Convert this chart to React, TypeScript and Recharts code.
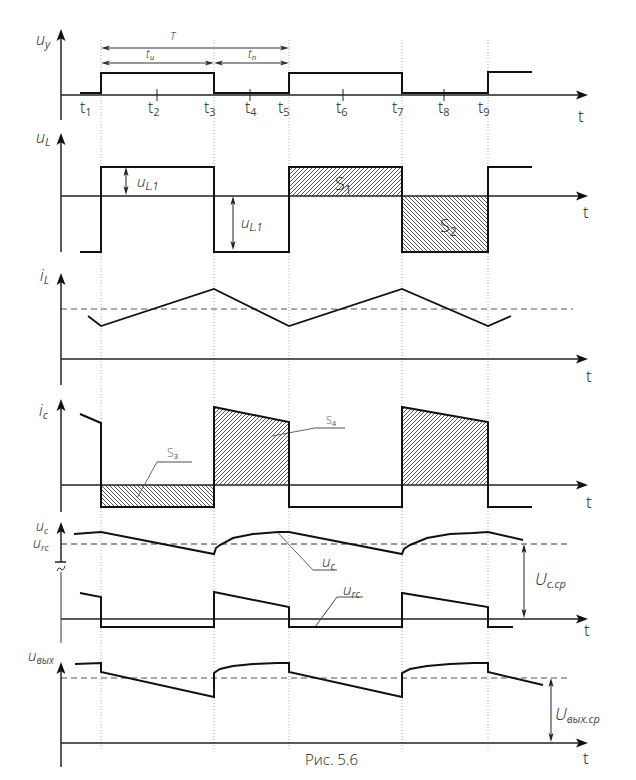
import React from "react";
import {
  ComposedChart,
  Line,
  Area,
  XAxis,
  YAxis,
  ReferenceLine,
  ReferenceDot,
} from "recharts";

const W = 636;
const H = 780;
const FONT = "'Open Sans', 'DejaVu Sans', sans-serif";

// baseline (page px) of every panel's t-axis, value 0 sits there
const base: Record<string, number> = { uy: 95, uL: 196, iL: 359, ic: 485, uc: 619, uo: 743 };

// time measured from the vertical axis
const switchTimes = [40, 153, 228, 341, 427]; // t1 t3 t5 t7 t9
const midTicks = [96, 189, 282, 383]; // t2 t4 t6 t8
const tickNames = ["1", "2", "3", "4", "5", "6", "7", "8", "9"];
const tickLabelAt = [19, 87, 143, 184, 217, 275, 331, 377, 417];

const pts = (a: number[][]) => a.map(([t, v]) => ({ t, v }));

const uyWave = pts([[19, 2], [40, 2], [40, 22], [153, 22], [153, 2], [228, 2], [228, 22], [341, 22], [341, 2], [427, 2], [427, 23], [471, 23]]);

const uLWave = pts([[19, -56], [40, -56], [40, 29], [153, 29], [153, -56], [228, -56], [228, 29], [341, 29], [341, -56], [427, -56], [427, 29], [471, 29]]);
const s1 = pts([[228, 29], [341, 29]]);
const s2 = pts([[341, -56], [427, -56]]);

const iLWave = pts([[27, 43], [40, 33], [153, 70], [228, 33], [341, 70], [427, 33], [450, 43]]);
const iLMean = 50;

const icWave = pts([[19, 71], [40, 62], [40, -22], [153, -22], [153, 78], [228, 63], [228, -22], [341, -22], [341, 78], [427, 63], [427, -22], [471, -22]]);
const s3 = pts([[40, -22], [153, -22]]);
const s4a = pts([[153, 78], [228, 63]]);
const s4b = pts([[341, 78], [427, 63]]);

const ucWave = pts([[13, 85], [40, 87], [153, 65], [155, 71], [159, 74], [172, 81], [192, 85], [217, 87], [228, 87], [341, 65], [343, 70], [349, 74], [366, 81], [389, 85], [412, 86], [427, 87], [462, 79]]);
const ucMean = 75;
const urcWave = pts([[19, 26], [40, 22], [40, -8], [153, -8], [153, 27], [228, 12], [228, -8], [341, -8], [341, 26], [427, 12], [427, -8], [452, -8]]);

const uoWave = pts([[14, 79], [40, 80], [40, 71], [153, 46], [153, 70], [159, 74], [172, 77], [192, 79], [216, 80], [228, 80], [228, 71], [341, 46], [341, 70], [349, 74], [366, 77], [389, 79], [412, 80], [427, 80], [427, 71], [482, 58]]);
const uoMean = 65;

type Dir = "up" | "down" | "left" | "right";

function headPath(cx: number, cy: number, dir: Dir, len: number, half: number) {
  const d = { up: [0, -1], down: [0, 1], left: [-1, 0], right: [1, 0] }[dir];
  const bx = cx - d[0] * len;
  const by = cy - d[1] * len;
  const nx = -d[1];
  const ny = d[0];
  const k = len * 0.78;
  return `M${cx},${cy} L${bx + nx * half},${by + ny * half} L${cx - d[0] * k},${cy - d[1] * k} L${bx - nx * half},${by - ny * half} Z`;
}

function head(key: string, ax: string, t: number, v: number, dir: Dir, len = 12, half = 4.5, color = "#111") {
  return (
    <ReferenceDot
      key={key}
      yAxisId={ax}
      x={t}
      y={v}
      r={0}
      ifOverflow="visible"
      shape={(p: any) => <path d={headPath(p.cx, p.cy, dir, len, half)} fill={color} stroke="none" />}
    />
  );
}

function seg(key: string, ax: string, a: number[], b: number[], stroke = "#222", w = 1.5, dash?: string) {
  return (
    <ReferenceLine
      key={key}
      yAxisId={ax}
      segment={[{ x: a[0], y: a[1] }, { x: b[0], y: b[1] }]}
      stroke={stroke}
      strokeWidth={w}
      strokeDasharray={dash}
      ifOverflow="visible"
    />
  );
}

function dimH(key: string, ax: string, t1: number, t2: number, v: number) {
  return [
    seg(key + "l", ax, [t1 + 3, v], [t2 - 3, v], "#333", 1),
    head(key + "a", ax, t1, v, "left", 9, 2.5, "#333"),
    head(key + "b", ax, t2, v, "right", 9, 2.5, "#333"),
  ];
}

function dimV(key: string, ax: string, t: number, vTop: number, vBot: number) {
  return [
    seg(key + "l", ax, [t, vTop - 3], [t, vBot + 3], "#222", 1),
    head(key + "a", ax, t, vTop, "up", 9, 2.5, "#222"),
    head(key + "b", ax, t, vBot, "down", 9, 2.5, "#222"),
  ];
}

type Lbl = { ax: string; t: number; v: number; main: string; sub?: string; size: number; italic?: boolean; color?: string };

function label(key: string, l: Lbl) {
  return (
    <ReferenceDot
      key={key}
      yAxisId={l.ax}
      x={l.t}
      y={l.v}
      r={0}
      ifOverflow="visible"
      shape={(p: any) => (
        <text
          x={p.cx}
          y={p.cy}
          fontFamily={FONT}
          fontSize={l.size}
          fontWeight={300}
          fontStyle={l.italic ? "italic" : "normal"}
          fill={l.color ?? "#222"}
        >
          {l.main}
          {l.sub ? (
            <tspan fontSize={Math.round(l.size * 0.66)} fontWeight={400} dy={l.size * 0.2} fill="#444">
              {l.sub}
            </tspan>
          ) : null}
        </text>
      )}
    />
  );
}

const labels: Lbl[] = [
  { ax: "uy", t: -25, v: 50, main: "u", sub: "y", size: 16, italic: true },
  { ax: "uy", t: 109, v: 55, main: "T", size: 11, italic: true },
  { ax: "uy", t: 85, v: 37, main: "t", sub: "и", size: 12, italic: true },
  { ax: "uy", t: 187, v: 37, main: "t", sub: "п", size: 12, italic: true },
  { ax: "uL", t: -25, v: 53, main: "u", sub: "L", size: 16, italic: true },
  { ax: "uL", t: 76, v: 9, main: "u", sub: "L.1", size: 15, italic: true },
  { ax: "uL", t: 180, v: -32, main: "u", sub: "L.1", size: 15, italic: true },
  { ax: "uL", t: 274, v: 6, main: "S", sub: "1", size: 18 },
  { ax: "uL", t: 379, v: -36, main: "S", sub: "2", size: 18 },
  { ax: "iL", t: -21, v: 78, main: "i", sub: "L", size: 16, italic: true },
  { ax: "ic", t: -22, v: 69, main: "i", sub: "c", size: 16, italic: true },
  { ax: "ic", t: 106, v: 28, main: "S", sub: "3", size: 12, color: "#666" },
  { ax: "ic", t: 265, v: 61, main: "S", sub: "4", size: 11, color: "#666" },
  { ax: "uc", t: -25, v: 88, main: "u", sub: "c", size: 14, italic: true },
  { ax: "uc", t: -28, v: 71, main: "u", sub: "rc", size: 14, italic: true },
  { ax: "uc", t: 261, v: 52, main: "u", sub: "c", size: 15, italic: true },
  { ax: "uc", t: 282, v: 24, main: "u", sub: "rc", size: 15, italic: true },
  { ax: "uc", t: 474, v: 34, main: "U", sub: "с.ср", size: 17, italic: true },
  { ax: "uo", t: -33, v: 82, main: "u", sub: "вых", size: 15, italic: true },
  { ax: "uo", t: 494, v: 23, main: "U", sub: "вых.ср", size: 17, italic: true },
  { ax: "uo", t: 244, v: -22, main: "Рис. 5.6", size: 15 },
];

// where the "t" of every time axis sits
const tLabels: [string, number, number][] = [
  ["uy", 517, -27],
  ["uL", 522, -22],
  ["iL", 525, -23],
  ["ic", 525, -23],
  ["uc", 523, -17],
  ["uo", 522, -21],
];

// vertical axis extent per panel: [bottom, arrow tip]
const axisSpan: [string, number, number][] = [
  ["uy", -25, 66],
  ["uL", -56, 63],
  ["iL", -26, 86],
  ["ic", -27, 86],
  ["uo", -24, 81],
];
const AX_END = 527;

export default function App() {
  const lineProps = {
    dot: false,
    isAnimationActive: false,
    type: "linear" as const,
    dataKey: "v",
    stroke: "#111",
    strokeWidth: 2,
    activeDot: false,
  };
  const hatch = (id: string, ax: string, data: any[], pat: string) => (
    <Area
      key={id}
      yAxisId={ax}
      data={data}
      dataKey="v"
      type="linear"
      baseValue={0}
      fill={`url(#${pat})`}
      fillOpacity={1}
      stroke="none"
      isAnimationActive={false}
      activeDot={false}
    />
  );

  return (
    <div style={{ position: "absolute", left: 0, top: 0, width: W, height: H, background: "#fff" }}>
      <svg width={0} height={0} style={{ position: "absolute" }}>
        <defs>
          <pattern id="hatchF" patternUnits="userSpaceOnUse" width={4} height={4}>
            <path d="M-1,1 L1,-1 M0,4 L4,0 M3,5 L5,3" stroke="#111" strokeWidth={0.7} />
          </pattern>
          <pattern id="hatchB" patternUnits="userSpaceOnUse" width={4} height={4}>
            <path d="M-1,3 L1,5 M0,0 L4,4 M3,-1 L5,1" stroke="#111" strokeWidth={0.7} />
          </pattern>
        </defs>
      </svg>
      <ComposedChart width={W} height={H} margin={{ top: 0, right: 0, bottom: 0, left: 0 }}>
        <XAxis dataKey="t" type="number" domain={[-61, W - 61]} hide allowDataOverflow />
        {Object.keys(base).map((k) => (
          <YAxis key={k} yAxisId={k} type="number" domain={[base[k] - H, base[k]]} hide allowDataOverflow />
        ))}

        {/* dotted switching instants */}
        {switchTimes.map((t, i) => seg("sw" + i, "uy", [t, 55], [t, -655], "#aaa", 1, "1 2"))}

        {/* hatched areas */}
        {hatch("s1", "uL", s1, "hatchF")}
        {hatch("s2", "uL", s2, "hatchB")}
        {hatch("s3", "ic", s3, "hatchB")}
        {hatch("s4a", "ic", s4a, "hatchF")}
        {hatch("s4b", "ic", s4b, "hatchF")}

        {/* mean levels */}
        {seg("mL", "iL", [0, iLMean], [512, iLMean], "#555", 1.2, "6 4")}
        {seg("mC", "uc", [0, ucMean], [507, ucMean], "#777", 1.5, "6 4")}
        {seg("mO", "uo", [0, uoMean], [507, uoMean], "#555", 1.2, "6 4")}

        {/* axes */}
        {axisSpan.map(([ax, b, tip]) => [
          seg(ax + "v", ax, [0, b], [0, tip - 8]),
          head(ax + "vh", ax, 0, tip, "up"),
        ])}
        {Object.keys(base).map((ax) => [
          seg(ax + "h", ax, [0, 0], [AX_END - 8, 0]),
          head(ax + "hh", ax, AX_END, 0, "right"),
        ])}
        {seg("ucv1", "uc", [0, 57], [0, 89])}
        {head("ucvh", "uc", 0, 97, "up")}
        {seg("ucbr", "uc", [-6, 57], [5, 57])}
        {seg("ucv2", "uc", [0, 47], [0, -24], "#555", 1.2)}
        <ReferenceDot
          yAxisId="uc"
          x={0}
          y={50}
          r={0}
          ifOverflow="visible"
          shape={(p: any) => (
            <path
              d={`M${p.cx - 4},${p.cy + 2} q2,-5 4,-2 t4,-3`}
              stroke="#333"
              strokeWidth={1}
              fill="none"
            />
          )}
        />
        {midTicks.map((t, i) => seg("mt" + i, "uy", [t, 6], [t, -6], "#222", 1))}

        {/* dimension arrows */}
        {dimH("T", "uy", 40, 228, 47)}
        {dimH("ti", "uy", 40, 153, 32)}
        {dimH("tp", "uy", 153, 228, 32)}
        {dimV("ul1", "uL", 65, 29, 1)}
        {dimV("ul2", "uL", 172, 0, -54)}
        {dimV("ucp", "uc", 463, 75, 1)}
        {dimV("uocp", "uo", 490, 65, 1)}

        {/* leaders */}
        {seg("ld3a", "ic", [76, -13], [96, 23], "#666", 1)}
        {seg("ld3b", "ic", [96, 23], [131, 23], "#888", 1.5)}
        {seg("ld4a", "ic", [211, 49], [254, 57], "#666", 1)}
        {seg("ld4b", "ic", [254, 57], [284, 57], "#888", 1.5)}
        {seg("ldca", "uc", [217, 86], [252, 49], "#666", 1)}
        {seg("ldcb", "uc", [252, 49], [276, 49], "#888", 1.5)}
        {seg("ldra", "uc", [254, -8], [276, 22], "#444", 1)}
        {seg("ldrb", "uc", [276, 22], [302, 22], "#888", 1.5)}

        {/* waveforms */}
        <Line yAxisId="uy" data={uyWave} {...lineProps} />
        <Line yAxisId="uL" data={uLWave} {...lineProps} />
        <Line yAxisId="iL" data={iLWave} {...lineProps} strokeWidth={1.8} />
        <Line yAxisId="ic" data={icWave} {...lineProps} />
        <Line yAxisId="uc" data={ucWave} {...lineProps} />
        <Line yAxisId="uc" data={urcWave} {...lineProps} />
        <Line yAxisId="uo" data={uoWave} {...lineProps} />

        {/* text */}
        {tickNames.map((n, i) =>
          label("tk" + i, { ax: "uy", t: tickLabelAt[i], v: -18, main: "t", sub: n, size: 16 })
        )}
        {tLabels.map(([ax, t, v]) => label("tl" + ax, { ax, t, v, main: "t", size: 17 }))}
        {labels.map((l, i) => label("lb" + i, l))}
      </ComposedChart>
    </div>
  );
}
